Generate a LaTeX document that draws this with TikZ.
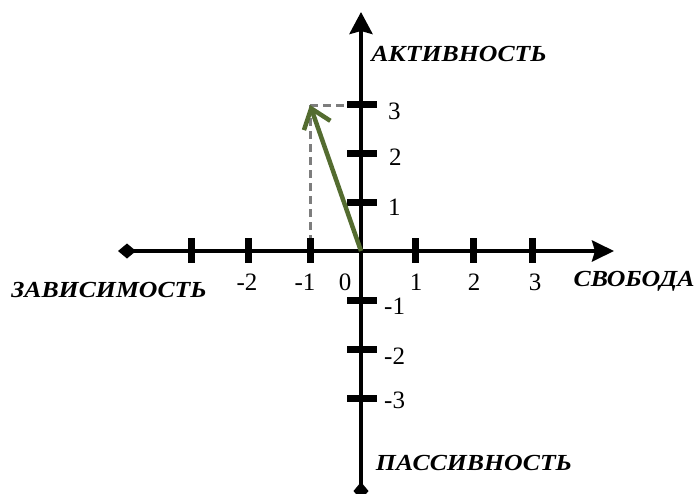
\documentclass[tikz,border=0pt]{standalone}
\usepackage{fontspec}
\setmainfont{Liberation Serif}
\usetikzlibrary{arrows.meta}
\definecolor{vecgreen}{RGB}{84,108,48}
\definecolor{dashgray}{RGB}{125,125,125}
\newcommand{\widetext}[1]{\scalebox{1.12}[1]{#1}}
\begin{document}
\begin{tikzpicture}[x=1pt,y=-1pt,
  axis/.style={line width=4pt},
  tickmark/.style={line width=7pt},
  num/.style={font=\fontsize{25}{25}\selectfont, inner sep=0pt},
  axlabel/.style={font=\fontsize{23}{23}\selectfont\bfseries\itshape, inner sep=0pt},
  dashline/.style={dashgray, line width=3pt, dash pattern=on 8pt off 5pt},
  vector/.style={vecgreen, line width=4.5pt, -{Straight Barb[length=18pt,width=28pt]}}]
\useasboundingbox (0,0) rectangle (695,493);
\coordinate (O) at (361,251);
\coordinate (L) at (118,251);
\coordinate (R) at (614,251);
\coordinate (T) at (361,12);
\coordinate (B) at (361,500);
\coordinate (P) at (310,105);
% dashed projections
\draw[dashline] (P) -- (O |- P);
\draw[dashline] (P) -- (P |- O);
% axes
\draw[axis, {Diamond[length=18pt,width=15pt]}-{Stealth[length=22pt,width=21pt,inset=3pt]}] (L) -- (R);
\draw[axis, {Diamond[length=18pt,width=15pt]}-{Stealth[length=22pt,width=23pt,inset=3pt]}] (B) -- (T);
% ticks on horizontal axis
\foreach \x/\n in {191/hm3,248/hm2,310/hm1,415/hp1,473/hp2,532/hp3}
  \draw[tickmark] (\x,238) coordinate (\n a) -- (\x,263) coordinate (\n b);
% ticks on vertical axis
\foreach \y/\n in {104/vp3,153/vp2,202/vp1,300/vm1,349/vm2,398/vm3}
  \draw[tickmark] (347,\y) coordinate (\n a) -- (377,\y) coordinate (\n b);
% vector
\draw[vector] (O) -- (P);
% numbers horizontal
\node[num] (nm2) at (247,282) {-2};
\node[num] (nm1) at (305,282) {-1};
\node[num] (n0) at (345,282) {0};
\node[num] (np1) at (416,282) {1};
\node[num] (np2) at (474,282) {2};
\node[num] (np3) at (535,282) {3};
% numbers vertical
\node[num, anchor=west] (v3) at (388,111) {3};
\node[num, anchor=west] (v2) at (389,157) {2};
\node[num, anchor=west] (v1) at (388,207) {1};
\node[num, anchor=west] (vm1) at (384,306) {-1};
\node[num, anchor=west] (vm2) at (384,356) {-2};
\node[num, anchor=west] (vm3) at (384,400) {-3};
% axis labels
\node[axlabel] (act) at (459,54) {\widetext{АКТИВНОСТЬ}};
\node[axlabel] (dep) at (109,290) {\widetext{ЗАВИСИМОСТЬ}};
\node[axlabel] (free) at (634,281) {\widetext{СВОБОДА}};
\node[axlabel] (pas) at (474,463) {\widetext{ПАССИВНОСТЬ}};
\end{tikzpicture}
\end{document}
